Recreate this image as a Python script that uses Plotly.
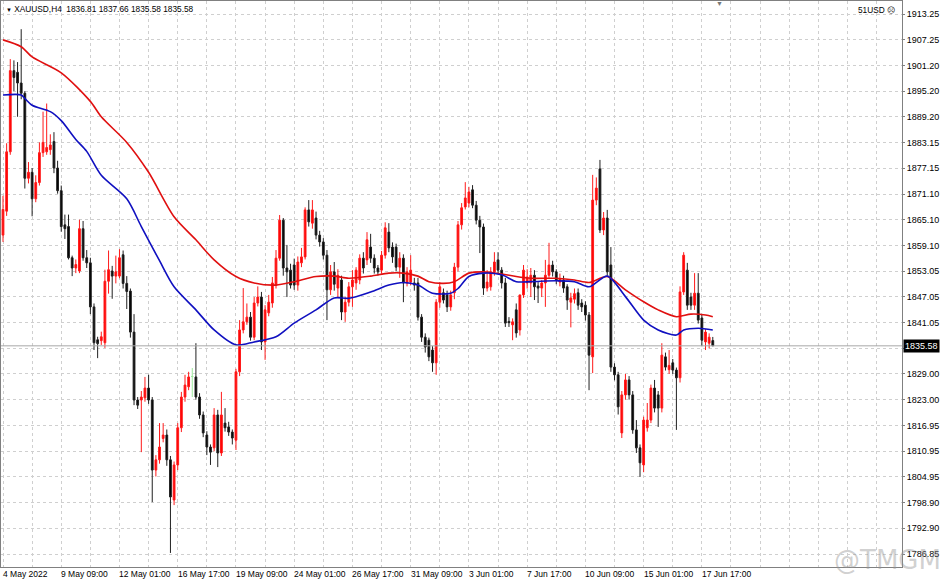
import plotly.graph_objects as go

# ---------------- data (XAUUSD H4) ----------------
opens = [1861.5,1867.1,1881.0,1900.0,1899.6,1897.1,1894.7,1874.8,1876.2,1870.0,
1873.8,1880.8,1881.0,1881.5,1883.4,1877.2,1871.9,1863.9,1863.5,1856.2,
1853.8,1853.1,1863.0,1856.2,1855.0,1844.7,1837.0,1836.8,1836.3,1850.7,
1853.1,1851.9,1851.9,1856.9,1850.2,1848.4,1838.8,1822.9,1822.9,1823.4,
1825.7,1822.9,1806.5,1808.9,1813.9,1814.7,1808.9,1799.5,1807.7,1816.4,
1823.6,1826.0,1828.4,1828.3,1823.6,1819.4,1814.7,1811.9,1811.7,1819.4,
1810.5,1817.5,1816.6,1815.4,1813.5,1829.5,1839.3,1841.2,1842.3,1837.6,
1845.6,1847.0,1836.5,1843.3,1845.6,1849.8,1856.1,1865.0,1853.8,1853.3,
1854.5,1849.8,1855.0,1856.4,1867.4,1864.3,1865.5,1861.5,1859.9,1856.8,
1848.7,1852.9,1849.1,1851.0,1843.5,1845.8,1849.4,1850.3,1851.0,1856.1,
1855.7,1858.7,1856.1,1853.8,1853.3,1856.8,1862.2,1858.7,1858.7,1854.0,
1856.1,1850.3,1850.5,1850.3,1850.3,1842.3,1837.6,1836.9,1834.6,1831.6,
1845.8,1848.0,1847.5,1844.7,1848.0,1854.0,1863.9,1868.1,1869.0,1872.1,
1868.5,1865.0,1863.4,1849.1,1849.4,1852.9,1855.7,1853.3,1850.3,1841.3,
1840.5,1844.0,1839.3,1847.5,1850.3,1850.3,1852.1,1849.6,1849.1,1850.3,
1852.1,1854.5,1852.9,1850.5,1851.0,1849.4,1845.8,1846.5,1848.0,1845.6,
1845.1,1842.8,1833.0,1869.7,1877.0,1862.7,1865.5,1854.5,1830.6,1828.8,
1815.2,1824.1,1827.6,1824.1,1815.9,1811.7,1807.7,1816.4,1818.2,1825.7,
1824.1,1821.0,1833.0,1830.0,1831.6,1829.9,1828.1,1848.2,1853.3,1847.0,
1845.1,1847.9,1842.1,1836.5,1836.2,1836.81]

highs = [1870.7,1883.0,1902.7,1902.4,1902.0,1909.7,1895.2,1878.6,1877.2,1875.5,
1883.2,1890.4,1892.3,1885.1,1885.6,1878.9,1873.1,1866.3,1866.3,1856.7,
1855.8,1865.1,1864.8,1858.0,1856.2,1845.5,1837.7,1838.9,1853.4,1857.9,
1854.3,1856.7,1858.2,1857.9,1851.9,1849.0,1843.0,1823.6,1825.0,1828.3,
1828.8,1823.6,1810.0,1817.5,1817.5,1816.0,1809.8,1808.5,1817.5,1824.8,
1828.8,1829.5,1830.4,1836.2,1824.5,1820.2,1815.6,1812.5,1821.0,1820.6,
1824.8,1821.0,1817.8,1816.0,1830.2,1841.6,1849.1,1845.5,1843.5,1847.0,
1849.5,1848.2,1845.1,1847.5,1851.7,1858.0,1866.2,1865.5,1859.2,1854.8,
1856.0,1856.5,1858.5,1868.0,1869.7,1869.7,1867.0,1862.5,1860.8,1858.0,
1854.5,1855.2,1853.5,1852.0,1847.0,1850.5,1853.3,1854.0,1857.0,1857.5,
1862.2,1861.8,1857.0,1854.5,1857.8,1864.5,1864.3,1859.8,1859.5,1857.5,
1857.0,1854.0,1856.8,1851.5,1851.5,1843.0,1838.5,1837.5,1835.5,1846.5,
1850.5,1849.0,1848.5,1848.5,1855.0,1864.8,1869.0,1873.9,1872.8,1873.2,
1869.5,1866.0,1864.2,1853.3,1854.0,1857.5,1857.5,1854.0,1851.5,1842.3,
1842.0,1845.5,1847.5,1854.5,1853.5,1853.8,1853.3,1850.5,1851.0,1855.7,
1859.7,1855.5,1853.5,1852.5,1852.0,1850.0,1848.0,1849.0,1849.0,1846.5,
1846.0,1843.5,1875.6,1875.0,1879.1,1866.9,1867.4,1858.7,1831.5,1829.5,
1825.0,1829.0,1828.5,1825.0,1818.2,1812.5,1819.0,1822.2,1826.5,1827.6,
1825.0,1836.2,1834.0,1834.6,1832.5,1830.5,1849.5,1857.5,1855.0,1848.0,
1852.6,1852.6,1843.0,1839.5,1838.5,1837.66]

lows = [1859.9,1866.0,1880.3,1895.2,1889.2,1893.3,1872.4,1873.6,1865.9,1869.2,
1873.1,1879.8,1880.3,1880.3,1876.0,1871.2,1862.3,1860.6,1855.8,1851.9,
1852.6,1852.6,1855.5,1853.8,1843.0,1834.6,1832.7,1835.8,1835.1,1847.8,
1846.6,1850.2,1851.4,1849.0,1844.2,1837.5,1821.7,1820.8,1810.7,1822.5,
1822.0,1799.0,1805.0,1808.0,1813.0,1807.5,1787.1,1798.3,1806.5,1815.4,
1822.5,1825.2,1823.6,1823.0,1818.5,1814.2,1810.0,1807.7,1810.9,1807.2,
1809.8,1815.5,1814.5,1812.5,1811.2,1828.5,1838.5,1840.5,1836.8,1836.9,
1844.8,1834.6,1832.3,1842.5,1844.5,1849.0,1855.5,1852.0,1847.0,1849.0,
1848.7,1848.5,1854.0,1855.8,1863.5,1863.0,1860.5,1858.8,1855.8,1841.6,
1847.5,1848.5,1847.0,1841.6,1841.2,1844.8,1844.7,1848.7,1850.0,1852.5,
1854.5,1855.0,1852.5,1852.0,1852.5,1856.0,1857.5,1855.0,1853.0,1851.5,
1845.8,1849.5,1849.8,1848.5,1841.5,1836.5,1834.0,1832.0,1829.5,1828.8,
1844.5,1845.5,1843.5,1843.8,1846.5,1853.0,1862.8,1867.5,1868.0,1867.8,
1864.0,1857.3,1847.5,1848.3,1848.5,1852.0,1852.5,1849.0,1840.0,1840.0,
1836.9,1837.5,1838.0,1846.8,1849.0,1847.0,1846.3,1845.6,1847.0,1844.7,
1851.5,1851.8,1850.0,1849.5,1848.0,1844.0,1839.9,1845.5,1844.0,1843.5,
1841.5,1825.2,1829.2,1868.5,1862.0,1861.5,1852.0,1829.5,1827.5,1819.5,
1814.0,1823.0,1823.0,1815.0,1810.5,1804.9,1806.0,1815.5,1817.5,1820.0,
1816.6,1820.0,1829.8,1829.0,1829.0,1815.9,1827.0,1847.5,1844.0,1844.0,
1844.0,1840.8,1835.5,1834.6,1835.0,1835.58]

closes = [1867.5,1881.0,1900.0,1898.4,1897.1,1894.7,1874.8,1876.2,1870.0,1873.8,
1880.8,1883.2,1882.0,1882.6,1877.2,1871.9,1863.5,1863.0,1856.2,1853.8,
1854.6,1863.0,1856.2,1855.0,1844.7,1836.3,1836.1,1837.7,1850.7,1853.4,
1851.9,1852.9,1856.2,1850.2,1848.3,1838.8,1822.9,1821.7,1823.6,1825.7,
1822.9,1806.5,1808.9,1811.9,1814.7,1808.9,1800.2,1807.7,1816.4,1823.6,
1826.4,1828.3,1828.4,1823.6,1819.4,1815.2,1811.9,1810.7,1819.4,1810.5,
1819.4,1816.4,1815.4,1814.0,1829.5,1839.3,1841.2,1842.3,1837.6,1845.6,
1847.0,1836.5,1844.0,1845.8,1850.3,1856.1,1865.0,1853.8,1852.9,1849.8,
1849.8,1855.2,1856.4,1867.4,1864.6,1867.4,1861.5,1859.9,1856.8,1848.7,
1852.9,1850.0,1852.1,1843.5,1845.8,1849.4,1851.0,1853.3,1856.1,1853.8,
1860.4,1856.1,1853.8,1852.9,1856.8,1863.2,1858.5,1856.4,1854.0,1856.1,
1850.3,1852.9,1853.3,1849.8,1842.3,1837.6,1835.3,1833.0,1831.6,1845.8,
1849.4,1846.3,1844.7,1847.5,1854.0,1863.9,1867.9,1870.2,1871.6,1868.5,
1865.0,1863.4,1849.1,1850.5,1852.9,1855.2,1853.3,1850.3,1840.9,1841.0,
1841.2,1838.6,1847.5,1853.3,1851.7,1852.1,1849.4,1849.1,1850.3,1852.1,
1854.5,1852.9,1850.9,1851.3,1849.1,1846.3,1846.8,1847.8,1845.1,1844.7,
1842.8,1833.4,1869.7,1872.5,1862.7,1865.5,1852.9,1830.6,1828.8,1821.3,
1824.1,1827.6,1824.1,1815.9,1811.7,1808.2,1818.2,1818.2,1825.7,1821.0,
1821.0,1833.4,1830.6,1831.0,1829.9,1828.1,1848.2,1856.8,1845.1,1845.1,
1847.9,1841.6,1836.9,1838.8,1837.6,1835.58]

# moving averages read at sample bars
ma_red_bars = [0,5,8,16,24,27,34,40,47,53,58,64,69,75,80,86,91,95,101,106,110,114,117,121,
               124,128,132,137,141,145,152,157,161,166,171,176,180,185,189,193,195]
ma_red_vals = [1907.2,1905.6,1903.2,1899.5,1892.8,1889.2,1883.2,1876.2,1865.8,1860.4,1855.7,
               1851.8,1850.3,1849.8,1850.6,1851.8,1851.9,1851.4,1851.9,1852.6,1852.6,1851.9,
               1850.6,1850.2,1850.6,1852.6,1852.9,1852.4,1851.8,1851.4,1851.4,1851.0,1850.4,
               1851.8,1848.7,1845.9,1844.0,1842.4,1843.0,1842.8,1842.4]
ma_blue_bars = [0,5,6,8,13,16,20,23,27,34,38,43,47,53,58,64,69,75,80,86,91,95,101,106,110,
                114,118,123,125,128,132,137,141,145,152,157,161,166,171,176,180,185,187,191,195]
ma_blue_vals = [1894.3,1894.3,1893.5,1891.9,1890.4,1888.3,1883.9,1881.1,1875.5,1870.0,1863.5,
                1855.5,1849.4,1844.0,1839.3,1835.8,1836.5,1837.7,1840.9,1844.0,1846.8,1846.7,
                1848.2,1849.8,1850.4,1849.8,1847.9,1847.9,1849.0,1851.8,1852.6,1852.2,1850.6,
                1850.6,1850.8,1850.6,1849.4,1851.9,1847.1,1841.6,1839.3,1838.1,1839.3,1839.7,
                1839.3]

price_ticks = [1913.25,1907.25,1901.20,1895.20,1889.20,1883.15,1877.15,1871.10,1865.10,1859.10,
               1853.05,1847.05,1841.05,1835.05,1829.00,1823.00,1816.95,1810.95,1804.95,1798.90,
               1792.90,1786.85]
date_label_bars = [0,16,32,48,64,80,96,112,128,144,160,176,192]
date_labels = ["4 May 2022","9 May 09:00","12 May 01:00","16 May 17:00","19 May 09:00",
               "24 May 01:00","26 May 17:00","31 May 09:00","3 Jun 01:00","7 Jun 17:00",
               "10 Jun 09:00","15 Jun 01:00","17 Jun 17:00"]
symbol = "XAUUSD,H4"

# ---------------- figure ----------------
n = len(closes)
bars = list(range(n))
doji = [i for i in bars if opens[i] == closes[i]]
norm = [i for i in bars if opens[i] != closes[i]]

fig = go.Figure()
fig.add_trace(go.Candlestick(
    x=norm, open=[opens[i] for i in norm], high=[highs[i] for i in norm],
    low=[lows[i] for i in norm], close=[closes[i] for i in norm],
    increasing=dict(line=dict(color="#ff1a1a", width=1), fillcolor="#ff0000"),
    decreasing=dict(line=dict(color="#202020", width=1), fillcolor="#000000"),
    whiskerwidth=0, showlegend=False, hoverinfo="skip"))
if doji:
    fig.add_trace(go.Candlestick(
        x=doji, open=[opens[i] for i in doji], high=[highs[i] for i in doji],
        low=[lows[i] for i in doji], close=[closes[i] for i in doji],
        increasing=dict(line=dict(color="#9be89b", width=1), fillcolor="#9be89b"),
        decreasing=dict(line=dict(color="#9be89b", width=1), fillcolor="#9be89b"),
        whiskerwidth=0, showlegend=False, hoverinfo="skip"))

fig.add_trace(go.Scatter(x=ma_red_bars, y=ma_red_vals, mode="lines",
                         line=dict(color="#e01010", width=1.6, shape="spline", smoothing=0.8),
                         showlegend=False, hoverinfo="skip"))
fig.add_trace(go.Scatter(x=ma_blue_bars, y=ma_blue_vals, mode="lines",
                         line=dict(color="#1010c0", width=1.6, shape="spline", smoothing=0.8),
                         showlegend=False, hoverinfo="skip"))

last = closes[-1]
grid = "#cfcfcf"
fig.update_layout(
    width=944, height=582,
    margin=dict(l=1, r=42, t=1, b=15),
    paper_bgcolor="white", plot_bgcolor="white",
    font=dict(family="Liberation Sans, Arial, sans-serif", size=9, color="#000"),
    hovermode=False,
    xaxis=dict(range=[-0.55, 246.98], rangeslider=dict(visible=False),
               tickvals=list(range(0, 247, 8)), showticklabels=False,
               showgrid=True, gridcolor=grid, griddash="dot", gridwidth=1,
               showline=True, linecolor="#808080", linewidth=1, mirror=True,
               zeroline=False, ticks=""),
    yaxis=dict(range=[1783.81, 1916.30], side="right",
               tickvals=price_ticks,
               ticktext=[("" if v == 1835.05 else f"{v:.2f}") for v in price_ticks],
               showgrid=True, gridcolor=grid, griddash="dot", gridwidth=1,
               showline=True, linecolor="#808080", linewidth=1, mirror=True,
               zeroline=False, ticks="outside", ticklen=2, tickcolor="#808080",
               tickfont=dict(size=9)),
)

# bid line and price box
fig.add_shape(type="line", xref="paper", x0=0, x1=1, yref="y", y0=last, y1=last,
              line=dict(color="#a8a8a8", width=1))
fig.add_annotation(xref="paper", x=1, xanchor="left", yref="y", y=last, text=f"{last:.2f}",
                   showarrow=False, bgcolor="black", font=dict(color="white", size=9),
                   borderpad=1, xshift=1)

# date labels
for b, t in zip(date_label_bars, date_labels):
    fig.add_annotation(xref="x", x=b, yref="paper", y=-0.0125, yanchor="middle", xanchor="left",
                       text=t, showarrow=False, font=dict(size=8.5), xshift=-2)

# header
fig.add_annotation(xref="paper", x=0, yref="paper", y=1, xanchor="left", yanchor="top",
                   text=f"<span style='font-size:6px'>▼</span> {symbol}  " +
                   f"{opens[-1]:.2f} {highs[-1]:.2f} {lows[-1]:.2f} {closes[-1]:.2f}",
                   showarrow=False, font=dict(size=8.3), xshift=3, yshift=-1)
fig.add_annotation(xref="paper", x=1, yref="paper", y=1, xanchor="right", yanchor="top",
                   text="51USD ☹", showarrow=False, font=dict(size=8.3), xshift=-5, yshift=-2)
fig.add_annotation(xref="paper", x=0.798, yref="paper", y=1, xanchor="center", yanchor="top",
                   text="▼", showarrow=False, font=dict(size=7, color="#777"), yshift=3)
# watermark
fig.add_annotation(xref="paper", x=0.984, yref="paper", y=0.012, xanchor="center", yanchor="middle",
                   text="@TMGM", showarrow=False,
                   font=dict(size=26, color="rgba(150,150,150,0.45)", family="DejaVu Sans"))

fig.write_html("out.html", config={"displayModeBar": False},
               post_script="document.body.style.margin='0';")
